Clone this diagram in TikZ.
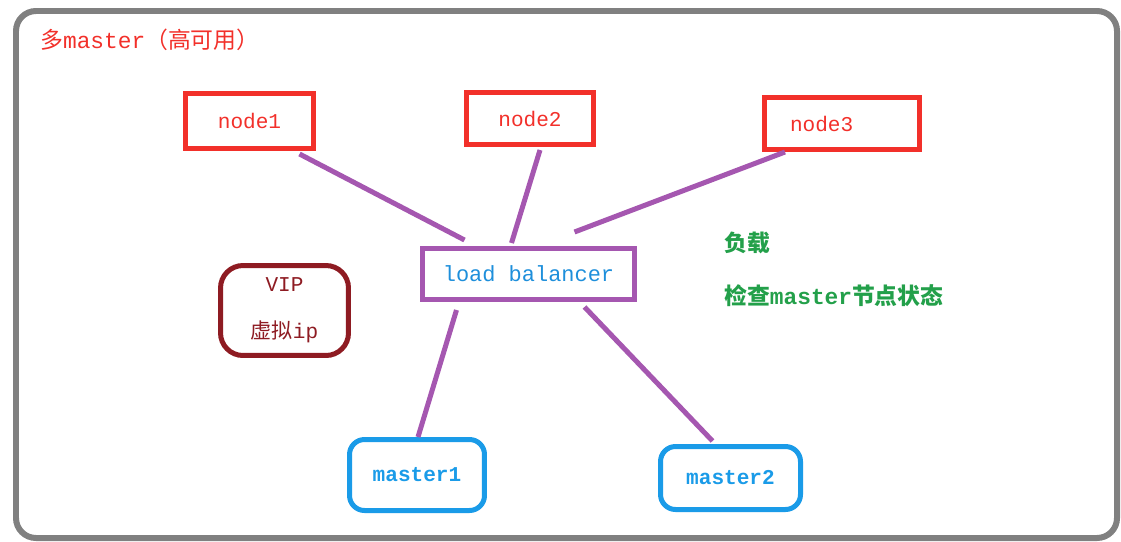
\documentclass[tikz,border=0pt]{standalone}
\usepackage{fontspec}
\setmainfont{Liberation Mono}
\newfontfamily\cjk{Noto Sans CJK SC}
\usetikzlibrary{calc}
\definecolor{nodered}{HTML}{F2302A}
\definecolor{linkpurple}{HTML}{A557B0}
\definecolor{lbblue}{HTML}{1E8FDB}
\definecolor{masterblue}{HTML}{1A9BE8}
\definecolor{vipred}{HTML}{8E1B22}
\definecolor{notegreen}{HTML}{23A04A}
\definecolor{framegray}{HTML}{808080}
\tikzset{
  worker/.style={
    rectangle, draw=nodered, line width=0.1cm,
    text=nodered, font=\fontsize{12}{14}\selectfont,
    minimum height=1.1cm, align=center
  },
  balancer/.style={
    rectangle, draw=linkpurple, line width=0.1cm,
    text=lbblue, font=\fontsize{12.5}{14}\selectfont,
    minimum width=4.24cm, minimum height=1.02cm, align=center
  },
  vipbox/.style={
    rectangle, rounded corners=0.45cm, draw=vipred, line width=0.1cm,
    text=vipred, font=\fontsize{12}{14}\selectfont,
    minimum width=2.56cm, minimum height=1.8cm, align=center
  },
  masterbox/.style={
    rectangle, rounded corners=0.3cm, draw=masterblue, line width=0.1cm,
    text=masterblue, font=\fontsize{12}{14}\selectfont\bfseries,
    align=center
  },
  link/.style={linkpurple, line width=0.1cm},
  note/.style={text=notegreen, font=\fontsize{13}{15}\selectfont\bfseries, anchor=west},
}

\begin{document}
\begin{tikzpicture}[x=0.02cm, y=-0.02cm]
\useasboundingbox (0,0) rectangle (1121,541);

% --- Frame ---
\draw[framegray, line width=0.12cm, rounded corners=0.4cm] (16,11) rectangle (1117,538);
\node[text=nodered, font=\fontsize{13}{15}\selectfont, anchor=west] (title) at (34,40)
  {{\cjk 多}master{\cjk （高可用）}};

% --- Nodes ---
\node[worker, minimum width=2.56cm] (node1) at (249.5,121) {node1};
\node[worker, minimum width=2.54cm, minimum height=1.04cm] (node2) at (530,118.5) {node2};
\node[worker, minimum width=3.1cm, minimum height=1.04cm, text width=2.08cm, align=left] (node3) at (842,123.5) {node3};
\node[balancer] (lb) at (528.5,274) {load balancer};
\node[vipbox] (vip) at (284.5,310.5) {VIP\\[0.45cm]{\cjk 虚拟}ip};
\node[masterbox, minimum width=2.7cm, minimum height=1.42cm] (master1) at (417,475) {master1};
\node[masterbox, minimum width=2.8cm, minimum height=1.26cm] (master2) at (730.5,478) {master2};

% --- Notes ---
\node[note] (load) at (718,243) {\cjk 负载};
\node[note] (check) at (718,296) {{\cjk 检查}master{\cjk 节点状态}};

% --- Links ---
\draw[link] ($(node1.south)+(50,3)$) -- ($(lb.north)+(-64,-6)$);
\draw[link] ($(node2.south)+(10,3)$) -- ($(lb.north)+(-17,-3)$);
\draw[link] ($(node3.south)+(-57,0)$) -- ($(lb.north)+(46,-14)$);
\draw[link] ($(lb.south)+(-72,8)$) -- ($(master1.north)+(1,0)$);
\draw[link] ($(lb.south)+(56,5)$) -- ($(master2.north)+(-18,-3)$);

\end{tikzpicture}
\end{document}
